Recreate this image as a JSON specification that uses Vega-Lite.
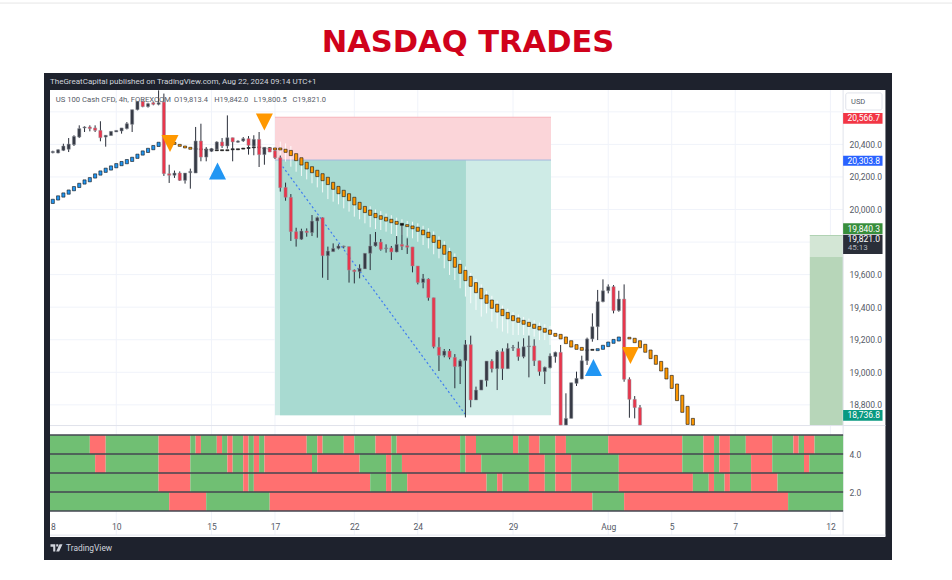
{
  "$schema": "https://vega.github.io/schema/vega-lite/v6.json",
  "autosize": {"type": "none"},
  "padding": {"left": 44, "top": 73, "right": 60, "bottom": 20},
  "width": 848,
  "height": 487,
  "background": "white",
  "view": {"fill": "#1e222d", "stroke": null},
  "title": {"text": "NASDAQ TRADES", "anchor": "middle", "frame": "group", "font": "DejaVu Sans", "fontSize": 30.5, "fontWeight": "bold", "color": "#d0021b", "offset": -86, "baseline": "bottom"},
  "datasets": {
    "candles": [
      {"bar":0,"open":20349,"high":20361,"low":20345,"close":20357},{"bar":1,"open":20347,"high":20370,"low":20345,"close":20367},{"bar":2,"open":20363,"high":20404,"low":20359,"close":20390},{"bar":3,"open":20370,"high":20439,"low":20353,"close":20402},{"bar":4,"open":20398,"high":20456,"low":20390,"close":20449},{"bar":5,"open":20445,"high":20517,"low":20439,"close":20497},{"bar":6,"open":20501,"high":20511,"low":20476,"close":20507},{"bar":7,"open":20507,"high":20517,"low":20480,"close":20497},{"bar":8,"open":20501,"high":20517,"low":20476,"close":20486},{"bar":9,"open":20486,"high":20542,"low":20419,"close":20441},
      {"bar":10,"open":20445,"high":20456,"low":20386,"close":20456},{"bar":11,"open":20454,"high":20480,"low":20454,"close":20480},{"bar":12,"open":20476,"high":20486,"low":20476,"close":20486},{"bar":13,"open":20482,"high":20501,"low":20466,"close":20501},{"bar":14,"open":20497,"high":20537,"low":20492,"close":20527},{"bar":15,"open":20523,"high":20613,"low":20476,"close":20613},{"bar":16,"open":20613,"high":20664,"low":20609,"close":20664},{"bar":17,"open":20664,"high":20668,"low":20628,"close":20632},{"bar":18,"open":20632,"high":20656,"low":20626,"close":20650},{"bar":19,"open":20656,"high":20660,"low":20640,"close":20646},
      {"bar":20,"open":20646,"high":20732,"low":20640,"close":20656},{"bar":21,"open":20660,"high":20712,"low":20206,"close":20220},{"bar":22,"open":20220,"high":20275,"low":20163,"close":20210},{"bar":23,"open":20210,"high":20239,"low":20194,"close":20224},{"bar":24,"open":20224,"high":20234,"low":20175,"close":20179},{"bar":25,"open":20179,"high":20224,"low":20159,"close":20224},{"bar":26,"open":20226,"high":20251,"low":20128,"close":20234},{"bar":27,"open":20224,"high":20507,"low":20224,"close":20421},{"bar":28,"open":20421,"high":20527,"low":20296,"close":20322},{"bar":29,"open":20322,"high":20384,"low":20296,"close":20368},
      {"bar":30,"open":20357,"high":20378,"low":20353,"close":20374},{"bar":31,"open":20370,"high":20419,"low":20364,"close":20415},{"bar":32,"open":20415,"high":20439,"low":20378,"close":20390},{"bar":33,"open":20390,"high":20578,"low":20374,"close":20441},{"bar":34,"open":20441,"high":20441,"low":20296,"close":20415},{"bar":35,"open":20413,"high":20425,"low":20410,"close":20421},{"bar":36,"open":20421,"high":20445,"low":20415,"close":20435},{"bar":37,"open":20435,"high":20451,"low":20337,"close":20394},{"bar":38,"open":20390,"high":20456,"low":20333,"close":20431},{"bar":39,"open":20431,"high":20476,"low":20261,"close":20337},
      {"bar":40,"open":20337,"high":20382,"low":20275,"close":20382},{"bar":41,"open":20378,"high":20384,"low":20353,"close":20353},{"bar":42,"open":20361,"high":20365,"low":20310,"close":20318},{"bar":43,"open":20318,"high":20331,"low":20110,"close":20134},{"bar":44,"open":20136,"high":20165,"low":20054,"close":20075},{"bar":45,"open":20075,"high":20095,"low":19807,"close":19864},{"bar":46,"open":19864,"high":19888,"low":19772,"close":19819},{"bar":47,"open":19817,"high":19882,"low":19813,"close":19868},{"bar":48,"open":19868,"high":19884,"low":19833,"close":19858},{"bar":49,"open":19858,"high":19966,"low":19837,"close":19929},
      {"bar":50,"open":19929,"high":19956,"low":19827,"close":19950},{"bar":51,"open":19950,"high":19952,"low":19581,"close":19716},{"bar":52,"open":19716,"high":19772,"low":19567,"close":19745},{"bar":53,"open":19741,"high":19792,"low":19741,"close":19761},{"bar":54,"open":19761,"high":19786,"low":19755,"close":19776},{"bar":55,"open":19772,"high":19778,"low":19761,"close":19776},{"bar":56,"open":19772,"high":19772,"low":19551,"close":19628},{"bar":57,"open":19628,"high":19632,"low":19546,"close":19618},{"bar":58,"open":19618,"high":19663,"low":19577,"close":19639},{"bar":59,"open":19635,"high":19731,"low":19635,"close":19731},
      {"bar":60,"open":19731,"high":19848,"low":19628,"close":19776},{"bar":61,"open":19776,"high":19862,"low":19772,"close":19800},{"bar":62,"open":19800,"high":19819,"low":19747,"close":19755},{"bar":63,"open":19760,"high":19786,"low":19735,"close":19764},{"bar":64,"open":19764,"high":19776,"low":19690,"close":19739},{"bar":65,"open":19739,"high":19837,"low":19737,"close":19786},{"bar":66,"open":19786,"high":19905,"low":19751,"close":19774},{"bar":67,"open":19778,"high":19823,"low":19727,"close":19768},{"bar":68,"open":19770,"high":19770,"low":19614,"close":19653},{"bar":69,"open":19653,"high":19653,"low":19540,"close":19551},
      {"bar":70,"open":19551,"high":19604,"low":19516,"close":19575},{"bar":71,"open":19573,"high":19577,"low":19440,"close":19458},{"bar":72,"open":19458,"high":19458,"low":19147,"close":19157},{"bar":73,"open":19155,"high":19215,"low":19008,"close":19104},{"bar":74,"open":19104,"high":19143,"low":19092,"close":19131},{"bar":75,"open":19131,"high":19143,"low":19080,"close":19092},{"bar":76,"open":19092,"high":19112,"low":18902,"close":19035},{"bar":77,"open":19035,"high":19080,"low":18928,"close":19071},{"bar":78,"open":19071,"high":19198,"low":18723,"close":19170},{"bar":79,"open":19170,"high":19225,"low":18785,"close":18830},
      {"bar":80,"open":18830,"high":18912,"low":18830,"close":18891},{"bar":81,"open":18891,"high":18953,"low":18891,"close":18953},{"bar":82,"open":18949,"high":19069,"low":18912,"close":19069},{"bar":83,"open":19069,"high":19080,"low":18999,"close":19022},{"bar":84,"open":19022,"high":19137,"low":18891,"close":19127},{"bar":85,"open":19127,"high":19147,"low":18953,"close":19022},{"bar":86,"open":19022,"high":19178,"low":19022,"close":19147},{"bar":87,"open":19149,"high":19168,"low":19131,"close":19153},{"bar":88,"open":19147,"high":19188,"low":19071,"close":19096},{"bar":89,"open":19096,"high":19209,"low":19086,"close":19157},
      {"bar":90,"open":19157,"high":19225,"low":18969,"close":19162},{"bar":91,"open":19162,"high":19203,"low":19039,"close":19071},{"bar":92,"open":19071,"high":19071,"low":18979,"close":19004},{"bar":93,"open":19004,"high":19035,"low":18928,"close":19031},{"bar":94,"open":19028,"high":19116,"low":19024,"close":19100},{"bar":95,"open":19096,"high":19127,"low":19059,"close":19123},{"bar":96,"open":19123,"high":19168,"low":18676,"close":18676},{"bar":97,"open":18676,"high":18871,"low":18676,"close":18717},{"bar":98,"open":18717,"high":18936,"low":18717,"close":18936},{"bar":99,"open":18932,"high":19004,"low":18916,"close":18963},
      {"bar":100,"open":18959,"high":19102,"low":18957,"close":19071},{"bar":101,"open":19071,"high":19213,"low":19045,"close":19205},{"bar":102,"open":19205,"high":19362,"low":19188,"close":19280},{"bar":103,"open":19280,"high":19506,"low":19198,"close":19434},{"bar":104,"open":19434,"high":19571,"low":19430,"close":19501},{"bar":105,"open":19501,"high":19540,"low":19485,"close":19526},{"bar":106,"open":19526,"high":19536,"low":19362,"close":19379},{"bar":107,"open":19379,"high":19501,"low":19372,"close":19450},{"bar":108,"open":19450,"high":19540,"low":18942,"close":18957},{"bar":109,"open":18957,"high":18969,"low":18721,"close":18834},{"bar":110,"open":18834,"high":18854,"low":18717,"close":18783},{"bar":111,"open":18783,"high":18799,"low":18676,"close":18676}
    ],
    "trend": [
      {"bar":0,"top":20063,"bot":20037,"trend":"up"},{"bar":1,"top":20084,"bot":20058,"trend":"up"},{"bar":2,"top":20102,"bot":20076,"trend":"up"},{"bar":3,"top":20120,"bot":20094,"trend":"up"},{"bar":4,"top":20141,"bot":20115,"trend":"up"},{"bar":5,"top":20161,"bot":20135,"trend":"up"},{"bar":6,"top":20182,"bot":20156,"trend":"up"},{"bar":7,"top":20196,"bot":20170,"trend":"up"},{"bar":8,"top":20219,"bot":20193,"trend":"up"},{"bar":9,"top":20237,"bot":20211,"trend":"up"},{"bar":10,"top":20254,"bot":20228,"trend":"up"},{"bar":11,"top":20268,"bot":20242,"trend":"up"},{"bar":12,"top":20282,"bot":20256,"trend":"up"},{"bar":13,"top":20295,"bot":20269,"trend":"up"},{"bar":14,"top":20307,"bot":20281,"trend":"up"},{"bar":15,"top":20321,"bot":20295,"trend":"up"},{"bar":16,"top":20340,"bot":20314,"trend":"up"},{"bar":17,"top":20360,"bot":20334,"trend":"up"},{"bar":18,"top":20376,"bot":20350,"trend":"up"},{"bar":19,"top":20393,"bot":20367,"trend":"up"},{"bar":20,"top":20413,"bot":20387,"trend":"up"},
      {"bar":23,"top":20412,"bot":20400,"trend":"down"},{"bar":24,"top":20400,"bot":20388,"trend":"down"},{"bar":25,"top":20390,"bot":20378,"trend":"down"},{"bar":26,"top":20382,"bot":20370,"trend":"down"},{"bar":27,"top":20375,"bot":20369,"trend":"flat"},{"bar":28,"top":20373,"bot":20367,"trend":"flat"},{"bar":29,"top":20371,"bot":20365,"trend":"flat"},{"bar":30,"top":20371,"bot":20365,"trend":"flat"},{"bar":31,"top":20367,"bot":20361,"trend":"flat"},{"bar":32,"top":20367,"bot":20361,"trend":"flat"},{"bar":33,"top":20367,"bot":20361,"trend":"flat"},{"bar":34,"top":20373,"bot":20367,"trend":"flat"},{"bar":35,"top":20373,"bot":20367,"trend":"flat"},{"bar":36,"top":20377,"bot":20371,"trend":"flat"},{"bar":37,"top":20381,"bot":20375,"trend":"flat"},{"bar":38,"top":20385,"bot":20379,"trend":"flat"},{"bar":39,"top":20385,"bot":20379,"trend":"flat"},{"bar":40,"top":20379,"bot":20373,"trend":"flat"},{"bar":41,"top":20380,"bot":20368,"trend":"down"},{"bar":42,"top":20378,"bot":20366,"trend":"down"},
      {"bar":43,"top":20378,"bot":20366,"trend":"down"},{"bar":44,"top":20370,"bot":20351,"trend":"down"},{"bar":45,"top":20363,"bot":20331,"trend":"down"},{"bar":46,"top":20343,"bot":20300,"trend":"down"},{"bar":47,"top":20318,"bot":20273,"trend":"down"},{"bar":48,"top":20290,"bot":20249,"trend":"down"},{"bar":49,"top":20263,"bot":20226,"trend":"down"},{"bar":50,"top":20241,"bot":20202,"trend":"down"},{"bar":51,"top":20220,"bot":20177,"trend":"down"},{"bar":52,"top":20198,"bot":20153,"trend":"down"},{"bar":53,"top":20167,"bot":20124,"trend":"down"},{"bar":54,"top":20142,"bot":20097,"trend":"down"},{"bar":55,"top":20118,"bot":20079,"trend":"down"},{"bar":56,"top":20097,"bot":20054,"trend":"down"},{"bar":57,"top":20075,"bot":20028,"trend":"down"},{"bar":58,"top":20044,"bot":20001,"trend":"down"},{"bar":59,"top":20019,"bot":19981,"trend":"down"},{"bar":60,"top":19997,"bot":19964,"trend":"down"},{"bar":61,"top":19976,"bot":19950,"trend":"down"},{"bar":62,"top":19962,"bot":19940,"trend":"down"},{"bar":63,"top":19952,"bot":19929,"trend":"down"},{"bar":64,"top":19940,"bot":19919,"trend":"down"},{"bar":65,"top":19927,"bot":19909,"trend":"down"},{"bar":66,"top":19915,"bot":19903,"trend":"flat"},{"bar":67,"top":19907,"bot":19895,"trend":"down"},{"bar":68,"top":19899,"bot":19882,"trend":"down"},{"bar":69,"top":19891,"bot":19866,"trend":"down"},{"bar":70,"top":19874,"bot":19845,"trend":"down"},{"bar":71,"top":19860,"bot":19827,"trend":"down"},{"bar":72,"top":19841,"bot":19798,"trend":"down"},{"bar":73,"top":19811,"bot":19762,"trend":"down"},{"bar":74,"top":19780,"bot":19725,"trend":"down"},{"bar":75,"top":19741,"bot":19686,"trend":"down"},{"bar":76,"top":19706,"bot":19645,"trend":"down"},{"bar":77,"top":19663,"bot":19608,"trend":"down"},{"bar":78,"top":19626,"bot":19563,"trend":"down"},{"bar":79,"top":19589,"bot":19528,"trend":"down"},{"bar":80,"top":19551,"bot":19489,"trend":"down"},{"bar":81,"top":19516,"bot":19452,"trend":"down"},{"bar":82,"top":19475,"bot":19424,"trend":"down"},{"bar":83,"top":19444,"bot":19393,"trend":"down"},{"bar":84,"top":19418,"bot":19370,"trend":"down"},{"bar":85,"top":19387,"bot":19348,"trend":"down"},{"bar":86,"top":19368,"bot":19329,"trend":"down"},{"bar":87,"top":19348,"bot":19317,"trend":"down"},{"bar":88,"top":19334,"bot":19307,"trend":"down"},{"bar":89,"top":19319,"bot":19295,"trend":"down"},{"bar":90,"top":19307,"bot":19282,"trend":"down"},{"bar":91,"top":19295,"bot":19270,"trend":"down"},{"bar":92,"top":19282,"bot":19260,"trend":"down"},{"bar":93,"top":19270,"bot":19246,"trend":"down"},{"bar":94,"top":19260,"bot":19233,"trend":"down"},{"bar":95,"top":19239,"bot":19221,"trend":"down"},{"bar":96,"top":19233,"bot":19205,"trend":"down"},{"bar":97,"top":19217,"bot":19176,"trend":"down"},{"bar":98,"top":19194,"bot":19155,"trend":"down"},{"bar":99,"top":19170,"bot":19141,"trend":"down"},{"bar":100,"top":19153,"bot":19135,"trend":"down"},{"bar":101,"top":19139,"bot":19133,"trend":"flat"},{"bar":102,"top":19141,"bot":19135,"trend":"flat"},{"bar":103,"top":19145,"bot":19133,"trend":"up"},{"bar":104,"top":19166,"bot":19141,"trend":"up"},{"bar":105,"top":19186,"bot":19158,"trend":"up"},{"bar":106,"top":19202,"bot":19178,"trend":"up"},{"bar":107,"top":19217,"bot":19192,"trend":"up"},{"bar":109,"top":19215,"bot":19205,"trend":"down"},{"bar":110,"top":19209,"bot":19182,"trend":"down"},{"bar":111,"top":19194,"bot":19151,"trend":"down"},{"bar":112,"top":19172,"bot":19123,"trend":"down"},{"bar":113,"top":19137,"bot":19084,"trend":"down"},{"bar":114,"top":19104,"bot":19049,"trend":"down"},{"bar":115,"top":19067,"bot":19008,"trend":"down"},{"bar":116,"top":19026,"bot":18959,"trend":"down"},{"bar":117,"top":18981,"bot":18901,"trend":"down"},{"bar":118,"top":18928,"bot":18826,"trend":"down"},{"bar":119,"top":18859,"bot":18754,"trend":"down"},{"bar":120,"top":18791,"bot":18680,"trend":"down"},{"bar":121,"top":18717,"bot":18676,"trend":"down"}
    ],
    "wicks": [
      {"bar":43,"price":20417,"price2":20335},{"bar":44,"price":20406,"price2":20294},{"bar":45,"price":20390,"price2":20263},{"bar":46,"price":20343,"price2":20232},{"bar":47,"price":20318,"price2":20206},{"bar":48,"price":20290,"price2":20185},{"bar":49,"price":20263,"price2":20161},{"bar":50,"price":20241,"price2":20136},{"bar":51,"price":20220,"price2":20105},{"bar":52,"price":20198,"price2":20064},{"bar":53,"price":20167,"price2":20048},{"bar":54,"price":20142,"price2":20032},{"bar":55,"price":20118,"price2":20007},{"bar":56,"price":20097,"price2":19987},{"bar":57,"price":20075,"price2":19956},{"bar":58,"price":20044,"price2":19940},{"bar":59,"price":20019,"price2":19915},{"bar":60,"price":20020,"price2":19891},{"bar":61,"price":20000,"price2":19880},{"bar":62,"price":19990,"price2":19874},{"bar":63,"price":19975,"price2":19864},{"bar":64,"price":19965,"price2":19850},{"bar":65,"price":19950,"price2":19833},{"bar":66,"price":19940,"price2":19843},{"bar":67,"price":19930,"price2":19833},{"bar":68,"price":19925,"price2":19823},{"bar":69,"price":19915,"price2":19802},{"bar":70,"price":19900,"price2":19782},{"bar":71,"price":19885,"price2":19761},{"bar":72,"price":19865,"price2":19725},{"bar":73,"price":19835,"price2":19700},{"bar":74,"price":19805,"price2":19639},{"bar":75,"price":19765,"price2":19598},{"bar":76,"price":19730,"price2":19567},{"bar":77,"price":19690,"price2":19516},{"bar":78,"price":19650,"price2":19465},{"bar":79,"price":19610,"price2":19424},{"bar":80,"price":19575,"price2":19383},{"bar":81,"price":19540,"price2":19342},{"bar":82,"price":19500,"price2":19362},{"bar":83,"price":19470,"price2":19311},{"bar":84,"price":19440,"price2":19270},{"bar":85,"price":19410,"price2":19250},{"bar":86,"price":19390,"price2":19239},{"bar":87,"price":19370,"price2":19229},{"bar":88,"price":19355,"price2":19229},{"bar":89,"price":19340,"price2":19229},{"bar":90,"price":19330,"price2":19229},{"bar":91,"price":19320,"price2":19219},{"bar":92,"price":19305,"price2":19198},{"bar":93,"price":19295,"price2":19198},{"bar":94,"price":19285,"price2":19168}
    ],
    "signals": [
      {"bar":22.15,"price":20405,"signal":"sell"},{"bar":40,"price":20537,"signal":"sell"},{"bar":31.13,"price":20236,"signal":"buy"},{"bar":102.2,"price":19030,"signal":"buy"},{"bar":109.2,"price":19103,"signal":"sell"}
    ],
    "grid_h": [
      {"bar":-0.53,"bar2":149.4,"price":20600},{"bar":-0.53,"bar2":149.4,"price":20400},{"bar":-0.53,"bar2":149.4,"price":20200},{"bar":-0.53,"bar2":149.4,"price":20000},{"bar":-0.53,"bar2":149.4,"price":19800},{"bar":-0.53,"bar2":149.4,"price":19600},{"bar":-0.53,"bar2":149.4,"price":19400},{"bar":-0.53,"bar2":149.4,"price":19200},{"bar":-0.53,"bar2":149.4,"price":19000},{"bar":-0.53,"bar2":149.4,"price":18800}
    ],
    "grid_v": [
      {"bar":12,"price":20734,"price2":18000},{"bar":30,"price":20734,"price2":18000},{"bar":42,"price":20734,"price2":18000},{"bar":57,"price":20734,"price2":18000},{"bar":69,"price":20734,"price2":18000},{"bar":87,"price":20734,"price2":18000},{"bar":105,"price":20734,"price2":18000},{"bar":117,"price":20734,"price2":18000},{"bar":129,"price":20734,"price2":18000},{"bar":147,"price":20734,"price2":18000}
    ],
    "zones": [
      {"bar":42,"bar2":94.18,"price":20566.7,"price2":20303.8,"zone":"stop"},
      {"bar":42,"bar2":94.18,"price":20303.8,"price2":18736.8,"zone":"target"},
      {"bar":42.95,"bar2":78.1,"price":20303.8,"price2":18736.8,"zone":"filled"},
      {"bar":143.1,"bar2":149.4,"price":19840.3,"price2":19708,"zone":"range_top"},
      {"bar":143.1,"bar2":149.4,"price":19708,"price2":18673,"zone":"range"}
    ],
    "lines": [
      {"bar":42,"bar2":94.18,"price":20566.7,"line":"stop"},
      {"bar":42,"bar2":94.18,"price":20303.8,"line":"entry"},
      {"bar":143.1,"bar2":149.4,"price":19840.3,"line":"range"},
      {"bar":-0.53,"bar2":157.4,"price":18673,"line":"pane"},
      {"bar":-0.53,"bar2":157.4,"price":18000,"line":"pane"},
      {"bar":-12,"bar2":172,"price":21268,"line":"page"}
    ],
    "tags": [
      {"bar":149.4,"bar2":156.85,"price":20593,"price2":20527,"tag":"stop"},
      {"bar":149.4,"bar2":156.85,"price":20330,"price2":20269,"tag":"entry"},
      {"bar":149.4,"bar2":156.85,"price":19915,"price2":19850,"tag":"high"},
      {"bar":149.4,"bar2":156.85,"price":19845,"price2":19727,"tag":"last"},
      {"bar":149.4,"bar2":156.85,"price":18768,"price2":18703,"tag":"target"}
    ],
    "tagtext": [
      {"bar":153.3,"price":20560,"label":"20,566.7"},
      {"bar":153.3,"price":20300,"label":"20,303.8"},
      {"bar":153.3,"price":19882,"label":"19,840.3"},
      {"bar":153.3,"price":19817,"label":"19,821.0"},
      {"bar":153.3,"price":18736,"label":"18,736.8"}
    ],
    "notes": [
      {"bar":-0.53,"price":20783,"label":"TheGreatCapital published on TradingView.com, Aug 22, 2024 09:14 UTC+1","kind":"header"},
      {"bar":0.55,"price":20673,"label":"US 100 Cash CFD, 4h, FOREXCOM","kind":"name"},
      {"bar":22.9,"price":20673,"label":"O19,813.4","kind":"legend"},
      {"bar":30.5,"price":20673,"label":"H19,842.0","kind":"legend"},
      {"bar":38,"price":20673,"label":"L19,800.5","kind":"legend"},
      {"bar":45.3,"price":20673,"label":"C19,821.0","kind":"legend"},
      {"bar":150.9,"price":20660,"label":"USD","kind":"legend"},
      {"bar":2.5,"price":17921,"label":"TradingView","kind":"footer"}
    ],
    "bands": [
      {"bar":-0.53,"bar2":7,"top":5,"bottom":4,"state":"bull"},{"bar":7,"bar2":10,"top":5,"bottom":4,"state":"bear"},{"bar":10,"bar2":20,"top":5,"bottom":4,"state":"bull"},{"bar":20,"bar2":26,"top":5,"bottom":4,"state":"bear"},{"bar":26,"bar2":27,"top":5,"bottom":4,"state":"bull"},{"bar":27,"bar2":28,"top":5,"bottom":4,"state":"bear"},{"bar":28,"bar2":31,"top":5,"bottom":4,"state":"bull"},{"bar":31,"bar2":32,"top":5,"bottom":4,"state":"bear"},{"bar":32,"bar2":33,"top":5,"bottom":4,"state":"bull"},{"bar":33,"bar2":34,"top":5,"bottom":4,"state":"bear"},{"bar":34,"bar2":36,"top":5,"bottom":4,"state":"bull"},{"bar":36,"bar2":37,"top":5,"bottom":4,"state":"bear"},{"bar":37,"bar2":38,"top":5,"bottom":4,"state":"bull"},{"bar":38,"bar2":39,"top":5,"bottom":4,"state":"bear"},{"bar":39,"bar2":40,"top":5,"bottom":4,"state":"bull"},{"bar":40,"bar2":48,"top":5,"bottom":4,"state":"bear"},{"bar":48,"bar2":50,"top":5,"bottom":4,"state":"bull"},{"bar":50,"bar2":51,"top":5,"bottom":4,"state":"bear"},{"bar":51,"bar2":55,"top":5,"bottom":4,"state":"bull"},{"bar":55,"bar2":57,"top":5,"bottom":4,"state":"bear"},{"bar":57,"bar2":61,"top":5,"bottom":4,"state":"bull"},{"bar":61,"bar2":64,"top":5,"bottom":4,"state":"bear"},{"bar":64,"bar2":65,"top":5,"bottom":4,"state":"bull"},{"bar":65,"bar2":77,"top":5,"bottom":4,"state":"bear"},{"bar":77,"bar2":78,"top":5,"bottom":4,"state":"bull"},{"bar":78,"bar2":80,"top":5,"bottom":4,"state":"bear"},{"bar":80,"bar2":87,"top":5,"bottom":4,"state":"bull"},{"bar":87,"bar2":88,"top":5,"bottom":4,"state":"bear"},{"bar":88,"bar2":90,"top":5,"bottom":4,"state":"bull"},{"bar":90,"bar2":92,"top":5,"bottom":4,"state":"bear"},{"bar":92,"bar2":95,"top":5,"bottom":4,"state":"bull"},{"bar":95,"bar2":97,"top":5,"bottom":4,"state":"bear"},{"bar":97,"bar2":105,"top":5,"bottom":4,"state":"bull"},{"bar":105,"bar2":119,"top":5,"bottom":4,"state":"bear"},{"bar":119,"bar2":123,"top":5,"bottom":4,"state":"bull"},{"bar":123,"bar2":125,"top":5,"bottom":4,"state":"bear"},{"bar":125,"bar2":126,"top":5,"bottom":4,"state":"bull"},{"bar":126,"bar2":128,"top":5,"bottom":4,"state":"bear"},{"bar":128,"bar2":131,"top":5,"bottom":4,"state":"bull"},{"bar":131,"bar2":136,"top":5,"bottom":4,"state":"bear"},{"bar":136,"bar2":140,"top":5,"bottom":4,"state":"bull"},{"bar":140,"bar2":141,"top":5,"bottom":4,"state":"bear"},{"bar":141,"bar2":142,"top":5,"bottom":4,"state":"bull"},{"bar":142,"bar2":144,"top":5,"bottom":4,"state":"bear"},{"bar":144,"bar2":149.4,"top":5,"bottom":4,"state":"bull"},
      {"bar":-0.53,"bar2":8,"top":4,"bottom":3,"state":"bull"},{"bar":8,"bar2":10,"top":4,"bottom":3,"state":"bear"},{"bar":10,"bar2":20,"top":4,"bottom":3,"state":"bull"},{"bar":20,"bar2":26,"top":4,"bottom":3,"state":"bear"},{"bar":26,"bar2":33,"top":4,"bottom":3,"state":"bull"},{"bar":33,"bar2":34,"top":4,"bottom":3,"state":"bear"},{"bar":34,"bar2":36,"top":4,"bottom":3,"state":"bull"},{"bar":36,"bar2":37,"top":4,"bottom":3,"state":"bear"},{"bar":37,"bar2":38,"top":4,"bottom":3,"state":"bull"},{"bar":38,"bar2":39,"top":4,"bottom":3,"state":"bear"},{"bar":39,"bar2":40,"top":4,"bottom":3,"state":"bull"},{"bar":40,"bar2":49,"top":4,"bottom":3,"state":"bear"},{"bar":49,"bar2":50,"top":4,"bottom":3,"state":"bull"},{"bar":50,"bar2":58,"top":4,"bottom":3,"state":"bear"},{"bar":58,"bar2":63,"top":4,"bottom":3,"state":"bull"},{"bar":63,"bar2":64,"top":4,"bottom":3,"state":"bear"},{"bar":64,"bar2":66,"top":4,"bottom":3,"state":"bull"},{"bar":66,"bar2":77,"top":4,"bottom":3,"state":"bear"},{"bar":77,"bar2":78,"top":4,"bottom":3,"state":"bull"},{"bar":78,"bar2":81,"top":4,"bottom":3,"state":"bear"},{"bar":81,"bar2":90,"top":4,"bottom":3,"state":"bull"},{"bar":90,"bar2":93,"top":4,"bottom":3,"state":"bear"},{"bar":93,"bar2":95,"top":4,"bottom":3,"state":"bull"},{"bar":95,"bar2":98,"top":4,"bottom":3,"state":"bear"},{"bar":98,"bar2":107,"top":4,"bottom":3,"state":"bull"},{"bar":107,"bar2":119,"top":4,"bottom":3,"state":"bear"},{"bar":119,"bar2":123,"top":4,"bottom":3,"state":"bull"},{"bar":123,"bar2":125,"top":4,"bottom":3,"state":"bear"},{"bar":125,"bar2":126,"top":4,"bottom":3,"state":"bull"},{"bar":126,"bar2":128,"top":4,"bottom":3,"state":"bear"},{"bar":128,"bar2":132,"top":4,"bottom":3,"state":"bull"},{"bar":132,"bar2":136,"top":4,"bottom":3,"state":"bear"},{"bar":136,"bar2":142,"top":4,"bottom":3,"state":"bull"},{"bar":142,"bar2":143,"top":4,"bottom":3,"state":"bear"},{"bar":143,"bar2":149.4,"top":4,"bottom":3,"state":"bull"},
      {"bar":-0.53,"bar2":20,"top":3,"bottom":2,"state":"bull"},{"bar":20,"bar2":26,"top":3,"bottom":2,"state":"bear"},{"bar":26,"bar2":36,"top":3,"bottom":2,"state":"bull"},{"bar":36,"bar2":37,"top":3,"bottom":2,"state":"bear"},{"bar":37,"bar2":38,"top":3,"bottom":2,"state":"bull"},{"bar":38,"bar2":60,"top":3,"bottom":2,"state":"bear"},{"bar":60,"bar2":63,"top":3,"bottom":2,"state":"bull"},{"bar":63,"bar2":64,"top":3,"bottom":2,"state":"bear"},{"bar":64,"bar2":67,"top":3,"bottom":2,"state":"bull"},{"bar":67,"bar2":82,"top":3,"bottom":2,"state":"bear"},{"bar":82,"bar2":84,"top":3,"bottom":2,"state":"bull"},{"bar":84,"bar2":85,"top":3,"bottom":2,"state":"bear"},{"bar":85,"bar2":90,"top":3,"bottom":2,"state":"bull"},{"bar":90,"bar2":93,"top":3,"bottom":2,"state":"bear"},{"bar":93,"bar2":95,"top":3,"bottom":2,"state":"bull"},{"bar":95,"bar2":98,"top":3,"bottom":2,"state":"bear"},{"bar":98,"bar2":107,"top":3,"bottom":2,"state":"bull"},{"bar":107,"bar2":121,"top":3,"bottom":2,"state":"bear"},{"bar":121,"bar2":124,"top":3,"bottom":2,"state":"bull"},{"bar":124,"bar2":125,"top":3,"bottom":2,"state":"bear"},{"bar":125,"bar2":127,"top":3,"bottom":2,"state":"bull"},{"bar":127,"bar2":128,"top":3,"bottom":2,"state":"bear"},{"bar":128,"bar2":132,"top":3,"bottom":2,"state":"bull"},{"bar":132,"bar2":137,"top":3,"bottom":2,"state":"bear"},{"bar":137,"bar2":149.4,"top":3,"bottom":2,"state":"bull"},
      {"bar":-0.53,"bar2":22,"top":2,"bottom":1,"state":"bull"},{"bar":22,"bar2":29,"top":2,"bottom":1,"state":"bear"},{"bar":29,"bar2":41,"top":2,"bottom":1,"state":"bull"},{"bar":41,"bar2":102,"top":2,"bottom":1,"state":"bear"},{"bar":102,"bar2":108,"top":2,"bottom":1,"state":"bull"},{"bar":108,"bar2":139,"top":2,"bottom":1,"state":"bear"},{"bar":139,"bar2":149.4,"top":2,"bottom":1,"state":"bull"}
    ]
  },
  "encoding": {
    "x": {
      "field": "bar",
      "type": "quantitative",
      "scale": {"domain": [-1.6635, 158.64], "nice": false, "zero": false, "padding": 0},
      "axis": {
        "orient": "bottom", "offset": -40, "title": null, "domain": false, "ticks": false, "grid": false, "zindex": 1,
        "values": [0, 12, 30, 42, 57, 69, 87, 105, 117, 129, 147],
        "labelExpr": "{'0':'8','12':'10','30':'15','42':'17','57':'22','69':'24','87':'29','105':'Aug','117':'5','129':'7','147':'12'}[datum.value]",
        "labelFont": "Roboto", "labelFontSize": 8.5, "labelColor": "#555a66", "labelPadding": 2, "labelOverlap": false, "labelBound": false, "labelFlush": false
      }
    }
  },
  "resolve": {"scale": {"y": "independent"}},
  "layer": [
    {
      "encoding": {
        "y": {
          "field": "price",
          "type": "quantitative",
          "scale": {"domain": [17847.1, 20838.45], "nice": false, "zero": false},
          "axis": {
            "orient": "right", "offset": -44, "title": null, "domain": false, "ticks": false, "grid": false, "zindex": 1,
            "values": [20400, 20200, 20000, 19600, 19400, 19200, 19000, 18800],
            "format": ",.1f",
            "labelFont": "Roboto", "labelFontSize": 8.5, "labelColor": "#555a66", "labelPadding": 1, "labelOverlap": false, "labelBound": false
          }
        }
      },
      "resolve": {"scale": {"color": "independent", "shape": "independent", "size": "independent"}},
      "layer": [
        {
          "data": {"values": [{"bar": -0.53, "bar2": 157.4, "price": 20734, "price2": 17988}]},
          "mark": {"type": "rect", "color": "white"},
          "encoding": {"x2": {"field": "bar2"}, "y2": {"field": "price2"}}
        },
        {
          "data": {"name": "grid_h"},
          "mark": {"type": "rule", "color": "#f0f3fa", "strokeWidth": 1},
          "encoding": {"x2": {"field": "bar2"}}
        },
        {
          "data": {"name": "grid_v"},
          "mark": {"type": "rule", "color": "#f0f3fa", "strokeWidth": 1},
          "encoding": {"y2": {"field": "price2"}}
        },
        {
          "data": {"name": "zones"},
          "mark": {"type": "rect"},
          "encoding": {
            "x2": {"field": "bar2"},
            "y2": {"field": "price2"},
            "color": {
              "field": "zone", "type": "nominal", "legend": null,
              "scale": {"domain": ["stop", "target", "filled", "range_top", "range"], "range": ["#fbd5d9", "#ceebe6", "#a8dad1", "#d3e6d5", "#b7d6b9"]}
            }
          }
        },
        {
          "data": {"name": "lines"},
          "mark": {"type": "rule", "strokeWidth": 1},
          "encoding": {
            "x2": {"field": "bar2"},
            "color": {
              "field": "line", "type": "nominal", "legend": null,
              "scale": {"domain": ["stop", "entry", "range", "pane", "page"], "range": ["#f7b4ba", "#a3b8de", "#b0d2b3", "#e0e3eb", "#e6e6e6"]}
            }
          }
        },
        {
          "data": {"values": [{"bar": 149.4, "price": 20734, "price2": 18000}]},
          "mark": {"type": "rule", "color": "#e0e3eb", "strokeWidth": 1},
          "encoding": {"y2": {"field": "price2"}}
        },
        {
          "data": {"values": [{"bar": 42.95, "price": 20286}, {"bar": 77.9, "price": 18745}]},
          "mark": {"type": "line", "color": "#3f7df0", "strokeWidth": 1.2, "strokeDash": [2, 2.5]}
        },
        {
          "data": {"name": "wicks"},
          "mark": {"type": "rule", "color": "white", "strokeWidth": 1, "opacity": 0.85},
          "encoding": {"y2": {"field": "price2"}}
        },
        {
          "data": {"name": "trend"},
          "mark": {"type": "bar", "width": 3.1, "stroke": "#111111", "strokeWidth": 0.6},
          "encoding": {
            "y": {
              "field": "top", "type": "quantitative",
              "scale": {"domain": [17847.1, 20838.45], "nice": false, "zero": false},
              "axis": {
                "orient": "right", "offset": -44, "title": null, "domain": false, "ticks": false, "grid": false, "zindex": 1,
                "values": [20400, 20200, 20000, 19600, 19400, 19200, 19000, 18800],
                "format": ",.1f",
                "labelFont": "Roboto", "labelFontSize": 8.5, "labelColor": "#555a66", "labelPadding": 1, "labelOverlap": false, "labelBound": false
              }
            },
            "y2": {"field": "bot"},
            "color": {
              "field": "trend", "type": "nominal", "legend": null,
              "scale": {"domain": ["up", "down", "flat"], "range": ["#2196f3", "#ff9800", "#111111"]}
            }
          }
        },
        {
          "data": {"name": "candles"},
          "mark": {"type": "rule", "color": "#2a2e39", "strokeWidth": 1},
          "encoding": {
            "y": {
              "field": "high", "type": "quantitative",
              "scale": {"domain": [17847.1, 20838.45], "nice": false, "zero": false},
              "axis": {
                "orient": "right", "offset": -44, "title": null, "domain": false, "ticks": false, "grid": false, "zindex": 1,
                "values": [20400, 20200, 20000, 19600, 19400, 19200, 19000, 18800],
                "format": ",.1f",
                "labelFont": "Roboto", "labelFontSize": 8.5, "labelColor": "#555a66", "labelPadding": 1, "labelOverlap": false, "labelBound": false
              }
            },
            "y2": {"field": "low"}
          }
        },
        {
          "data": {"name": "candles"},
          "mark": {"type": "bar", "width": 3.2, "stroke": "#9598a1", "strokeWidth": 0.5},
          "encoding": {
            "y": {
              "field": "open", "type": "quantitative",
              "scale": {"domain": [17847.1, 20838.45], "nice": false, "zero": false},
              "axis": {
                "orient": "right", "offset": -44, "title": null, "domain": false, "ticks": false, "grid": false, "zindex": 1,
                "values": [20400, 20200, 20000, 19600, 19400, 19200, 19000, 18800],
                "format": ",.1f",
                "labelFont": "Roboto", "labelFontSize": 8.5, "labelColor": "#555a66", "labelPadding": 1, "labelOverlap": false, "labelBound": false
              }
            },
            "y2": {"field": "close"},
            "color": {"condition": {"test": "datum.close >= datum.open", "value": "#363a45"}, "value": "#e8364c"}
          }
        },
        {
          "data": {"name": "signals"},
          "mark": {"type": "point", "filled": true, "size": 289, "opacity": 1},
          "encoding": {
            "shape": {
              "field": "signal", "type": "nominal", "legend": null,
              "scale": {"domain": ["sell", "buy"], "range": ["M-1,-1L1,-1L0,1Z", "M-1,1L1,1L0,-1Z"]}
            },
            "color": {
              "field": "signal", "type": "nominal", "legend": null,
              "scale": {"domain": ["sell", "buy"], "range": ["#ff9800", "#2196f3"]}
            }
          }
        },
        {
          "data": {"values": [{"bar": 149.9, "bar2": 156.75, "price": 20716, "price2": 20611}]},
          "mark": {"type": "rect", "fill": "white", "stroke": "#e0e3eb", "strokeWidth": 1, "cornerRadius": 2},
          "encoding": {"x2": {"field": "bar2"}, "y2": {"field": "price2"}}
        },
        {
          "data": {"name": "tags"},
          "mark": {"type": "rect"},
          "encoding": {
            "x2": {"field": "bar2"},
            "y2": {"field": "price2"},
            "color": {
              "field": "tag", "type": "nominal", "legend": null,
              "scale": {"domain": ["stop", "entry", "high", "last", "target"], "range": ["#f23645", "#2962ff", "#388e3c", "#2a2e39", "#089981"]}
            }
          }
        },
        {
          "data": {"name": "tagtext"},
          "mark": {"type": "text", "align": "center", "baseline": "middle", "font": "Roboto", "fontSize": 8.5, "color": "white"},
          "encoding": {"text": {"field": "label"}}
        },
        {
          "data": {"values": [{"bar": 153.3, "price": 19765, "label": "45:13"}]},
          "mark": {"type": "text", "align": "center", "baseline": "middle", "font": "Roboto", "fontSize": 8, "color": "#b2b5be", "dx": -6},
          "encoding": {"text": {"field": "label"}}
        },
        {
          "data": {"name": "notes"},
          "mark": {"type": "text", "align": "left", "baseline": "middle", "font": "Roboto"},
          "encoding": {
            "text": {"field": "label"},
            "size": {
              "field": "kind", "type": "nominal", "legend": null,
              "scale": {"type": "ordinal", "domain": ["header", "name", "legend", "footer"], "range": [8, 7.7, 7.5, 8.4]}
            },
            "color": {
              "field": "kind", "type": "nominal", "legend": null,
              "scale": {"domain": ["header", "name", "legend", "footer"], "range": ["#d1d4dc", "#555a66", "#555a66", "#d1d4dc"]}
            }
          }
        },
        {
          "data": {"values": [{"bar": 0.7, "price": 17921}]},
          "mark": {"type": "point", "filled": true, "size": 144, "opacity": 1, "color": "#d1d4dc", "shape": "M-1,-0.6H-0.2V0.6H-0.55V-0.2H-1ZM-0.05,-0.6H0.3V-0.25H-0.05ZM0.5,-0.6H1L0.45,0.6H-0.05Z"}
        }
      ]
    },
    {
      "encoding": {
        "y": {
          "field": "top",
          "type": "quantitative",
          "scale": {"domain": [-1.5789, 24.0526], "nice": false, "zero": false},
          "axis": {
            "orient": "right", "offset": -44, "title": null, "domain": false, "ticks": false, "grid": false, "zindex": 1,
            "values": [4, 2],
            "format": ".1f",
            "labelFont": "Roboto", "labelFontSize": 8.5, "labelColor": "#555a66", "labelPadding": 1, "labelOverlap": false, "labelBound": false
          }
        }
      },
      "layer": [
        {
          "data": {"name": "bands"},
          "mark": {"type": "rect"},
          "encoding": {
            "x2": {"field": "bar2"},
            "y2": {"field": "bottom"},
            "color": {
              "field": "state", "type": "nominal", "legend": null,
              "scale": {"domain": ["bull", "bear"], "range": ["#70bf73", "#ff7070"]}
            }
          }
        },
        {
          "data": {"values": [{"bar": -0.53, "bar2": 149.4, "top": 5}, {"bar": -0.53, "bar2": 149.4, "top": 4}, {"bar": -0.53, "bar2": 149.4, "top": 3}, {"bar": -0.53, "bar2": 149.4, "top": 2}, {"bar": -0.53, "bar2": 149.4, "top": 1}]},
          "mark": {"type": "rule", "color": "#434651", "strokeWidth": 1.5},
          "encoding": {"x2": {"field": "bar2"}}
        }
      ]
    }
  ]
}
